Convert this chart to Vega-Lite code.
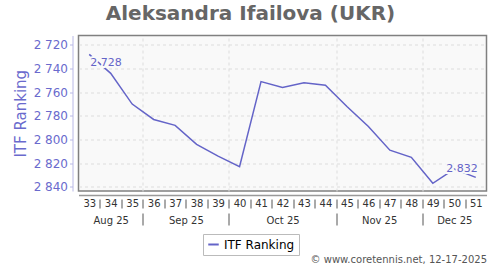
{
  "$schema": "https://vega.github.io/schema/vega-lite/v6.json",
  "width": 408,
  "height": 155.5,
  "autosize": {"type": "none"},
  "padding": {"left": 78.5, "top": 35.5, "right": 13.5, "bottom": 79},
  "background": "white",
  "config": {
    "font": "DejaVu Sans",
    "view": {"fill": "#f9f9f9", "stroke": "#808080", "strokeWidth": 1.5},
    "locale": {"number": {"decimal": ".", "thousands": " ", "grouping": [3], "currency": ["", ""]}},
    "axis": {"labelFont": "DejaVu Sans", "titleFont": "DejaVu Sans"}
  },
  "title": {
    "text": "Aleksandra Ifailova (UKR)",
    "fontSize": 20,
    "fontWeight": "bold",
    "color": "#666666",
    "anchor": "middle",
    "frame": "group",
    "dx": -32,
    "offset": 12
  },
  "datasets": {
    "ranking": [
      {"week": 33, "rank": 2728},
      {"week": 34, "rank": 2744},
      {"week": 35, "rank": 2770},
      {"week": 36, "rank": 2783},
      {"week": 37, "rank": 2788},
      {"week": 38, "rank": 2804},
      {"week": 39, "rank": 2814},
      {"week": 40, "rank": 2823},
      {"week": 41, "rank": 2751},
      {"week": 42, "rank": 2756},
      {"week": 43, "rank": 2752},
      {"week": 44, "rank": 2754},
      {"week": 45, "rank": 2772},
      {"week": 46, "rank": 2789},
      {"week": 47, "rank": 2809},
      {"week": 48, "rank": 2815},
      {"week": 49, "rank": 2837},
      {"week": 50, "rank": 2825},
      {"week": 51, "rank": 2832}
    ]
  },
  "data": {"name": "ranking"},
  "layer": [
    {
      "encoding": {
        "x": {
          "field": "week",
          "type": "quantitative",
          "scale": {"domain": [32.5, 51.5], "nice": false, "zero": false},
          "axis": {
            "orient": "bottom",
            "values": [33, 34, 35, 36, 37, 38, 39, 40, 41, 42, 43, 44, 45, 46, 47, 48, 49, 50, 51],
            "format": "d",
            "ticks": false,
            "grid": false,
            "domainColor": "#999999",
            "domainWidth": 1.5,
            "offset": 4,
            "labelPadding": 3,
            "labelFontSize": 10,
            "labelColor": "#333333",
            "labelFlush": false,
            "labelOverlap": false,
            "title": null
          }
        },
        "y": {
          "field": "rank",
          "type": "quantitative",
          "scale": {"domain": [2712, 2843.5], "reverse": true, "nice": false, "zero": false},
          "axis": {
            "values": [2720, 2740, 2760, 2780, 2800, 2820, 2840],
            "format": ",d",
            "offset": 6,
            "domainColor": "#b8b8e6",
            "tickColor": "#b8b8e6",
            "tickSize": 3,
            "labelPadding": 2,
            "labelFontSize": 12,
            "labelColor": "#6a6acd",
            "grid": true,
            "gridColor": "#dddddd",
            "gridDash": [3, 3],
            "title": "ITF Ranking",
            "titleColor": "#6a6acd",
            "titleFontSize": 15,
            "titleFontWeight": "normal",
            "titlePadding": 5
          }
        }
      },
      "layer": [
        {
          "mark": {"type": "line", "strokeWidth": 1.5},
          "encoding": {
            "color": {
              "datum": "ITF Ranking",
              "type": "nominal",
              "scale": {"range": ["#6464c8"]},
              "legend": {
                "orient": "none",
                "legendX": 124.5,
                "legendY": 198.5,
                "title": null,
                "symbolType": "stroke",
                "symbolStrokeWidth": 2,
                "symbolSize": 110,
                "labelFontSize": 12,
                "labelColor": "#000000",
                "strokeColor": "#bbbbbb",
                "fillColor": "white",
                "padding": 4
              }
            }
          }
        },
        {
          "transform": [{"filter": "datum.week == 33"}],
          "mark": {"type": "text", "align": "left", "baseline": "middle", "dx": 1, "dy": 9, "fontSize": 11, "stroke": "#f9f9f9", "strokeWidth": 4, "fill": "#f9f9f9"},
          "encoding": {"text": {"field": "rank", "type": "quantitative", "format": ",d"}}
        },
        {
          "transform": [{"filter": "datum.week == 33"}],
          "mark": {"type": "text", "align": "left", "baseline": "middle", "dx": 1, "dy": 9, "fontSize": 11, "fill": "#6464c8"},
          "encoding": {"text": {"field": "rank", "type": "quantitative", "format": ",d"}}
        },
        {
          "transform": [{"filter": "datum.week == 51"}],
          "mark": {"type": "text", "align": "right", "baseline": "middle", "dx": 2, "dy": -8, "fontSize": 11, "stroke": "#f9f9f9", "strokeWidth": 4, "fill": "#f9f9f9"},
          "encoding": {"text": {"field": "rank", "type": "quantitative", "format": ",d"}}
        },
        {
          "transform": [{"filter": "datum.week == 51"}],
          "mark": {"type": "text", "align": "right", "baseline": "middle", "dx": 2, "dy": -8, "fontSize": 11, "fill": "#6464c8"},
          "encoding": {"text": {"field": "rank", "type": "quantitative", "format": ",d"}}
        }
      ]
    },
    {
      "mark": {"type": "point", "opacity": 0},
      "encoding": {
        "x": {
          "field": "week",
          "type": "quantitative",
          "scale": {"domain": [32.5, 51.5], "nice": false, "zero": false},
          "axis": {
            "orient": "bottom",
            "values": [33.5, 34.5, 35.5, 36.5, 37.5, 38.5, 39.5, 40.5, 41.5, 42.5, 43.5, 44.5, 45.5, 46.5, 47.5, 48.5, 49.5, 50.5],
            "labels": false,
            "domain": false,
            "ticks": true,
            "tickSize": 9,
            "tickColor": "#555555",
            "tickWidth": 1,
            "offset": 8,
            "grid": false,
            "title": null
          }
        }
      }
    },
    {
      "mark": {"type": "point", "opacity": 0},
      "encoding": {
        "x": {
          "field": "week",
          "type": "quantitative",
          "scale": {"domain": [32.5, 51.5], "nice": false, "zero": false},
          "axis": {
            "orient": "bottom",
            "values": [35.5, 39.5, 44.5, 48.5],
            "labels": false,
            "domain": false,
            "ticks": true,
            "tickSize": 12,
            "tickColor": "#555555",
            "tickWidth": 1,
            "offset": 22,
            "grid": false,
            "title": null
          }
        }
      }
    },
    {
      "mark": {"type": "point", "opacity": 0},
      "encoding": {
        "x": {
          "field": "week",
          "type": "quantitative",
          "scale": {"domain": [32.5, 51.5], "nice": false, "zero": false},
          "axis": {
            "orient": "bottom",
            "values": [35.5, 39.5, 44.5, 48.5],
            "labels": false,
            "domain": false,
            "ticks": false,
            "grid": true,
            "gridColor": "#dddddd",
            "gridDash": [3, 3],
            "title": null
          }
        }
      }
    },
    {
      "mark": {"type": "point", "opacity": 0},
      "encoding": {
        "x": {
          "field": "week",
          "type": "quantitative",
          "scale": {"domain": [32.5, 51.5], "nice": false, "zero": false},
          "axis": {
            "orient": "bottom",
            "values": [34, 37.5, 42, 46.5, 50],
            "labelExpr": "datum.value == 34 ? 'Aug 25' : datum.value == 37.5 ? 'Sep 25' : datum.value == 42 ? 'Oct 25' : datum.value == 46.5 ? 'Nov 25' : 'Dec 25'",
            "ticks": false,
            "domain": false,
            "grid": false,
            "offset": 24,
            "labelPadding": 0,
            "labelFontSize": 10,
            "labelColor": "#333333",
            "labelFlush": false,
            "labelOverlap": false,
            "title": "© www.coretennis.net, 12-17-2025",
            "titleFontSize": 10,
            "titleFontWeight": "normal",
            "titleColor": "#555555",
            "titleAnchor": "end",
            "titleAlign": "right",
            "titlePadding": 29
          }
        }
      }
    }
  ],
  "resolve": {"scale": {"x": "independent"}, "axis": {"x": "independent"}}
}
